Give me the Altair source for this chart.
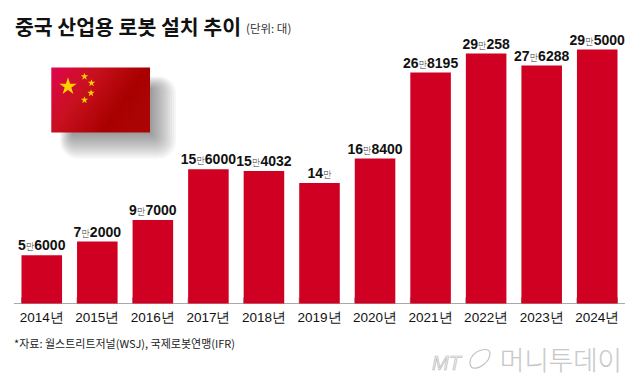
import altair as alt
import pandas as pd

years = ["2014년","2015년","2016년","2017년","2018년","2019년","2020년","2021년","2022년","2023년","2024년"]
values = [56000,72000,97000,156000,154032,140000,168400,268195,290258,276288,295000]
man_part = ["5","7","9","15","15","14","16","26","29","27","29"]
rest_part = ["6000","2000","7000","6000","4032","","8400","8195","258","6288","5000"]

RED = "#cf0022"
NUM_FONT = "Liberation Sans"
KR = "Noto Sans CJK KR"
W, H = 611, 295.5
DIGIT = 7.8
MAN = 8.5
HALF_BAR = 20.25
rows = []
for y, v, a, b in zip(years, values, man_part, rest_part):
    total = len(a)*DIGIT + MAN + len(b)*DIGIT
    start = HALF_BAR - total/2
    rows.append(dict(year=y, value=v, pre=a, post=b,
                     pre_off=start + len(a)*DIGIT,
                     man_off=start + len(a)*DIGIT + MAN/2,
                     post_off=start + len(a)*DIGIT + MAN))
df = pd.DataFrame(rows)

xscale = alt.Scale(domain=years, paddingInner=0.27, paddingOuter=0.135)
yscale = alt.Scale(domain=[0, 295000*H/254], nice=False)
X = alt.X("year:N", scale=xscale, sort=years, title=None, axis=None)
Y = alt.Y("value:Q", scale=yscale, axis=None)

base = alt.Chart(df)
bars = base.mark_bar(color=RED).encode(x=X, y=Y)
baseline = alt.Chart(pd.DataFrame({"a":[0]})).mark_rule(color="#aaaaaa", strokeWidth=1).encode(
    x=alt.value(0), x2=alt.value(W), y=alt.value(H))
tick_l = base.mark_rule(color="#999999", strokeWidth=1).encode(
    x=alt.X("year:N", scale=xscale, sort=years, bandPosition=0, title=None, axis=None), y=alt.value(H-6), y2=alt.value(H))
tick_r = alt.Chart(df[df.year=="2024년"]).mark_rule(color="#999999", strokeWidth=1).encode(
    x=alt.X("year:N", scale=xscale, sort=years, bandPosition=1, title=None, axis=None), y=alt.value(H-6), y2=alt.value(H))
year_labels = base.mark_text(align="center", baseline="alphabetic", font="Liberation Sans", fontSize=13.5, color="#111111").encode(
    x=X, y=alt.value(H+18), text="year:N")

def lab(field, off, align):
    return base.mark_text(align=align, baseline="alphabetic", dy=-5, font=NUM_FONT, fontSize=14, fontWeight="bold", color="#111111").encode(
        x=X, y=Y, xOffset=alt.XOffset(off+":Q", scale=None), text=field+":N")
l1 = lab("pre","pre_off","right")
l3 = lab("post","post_off","left")
l2 = base.mark_text(text="만", align="center", baseline="alphabetic", dy=-5, font=KR, fontSize=9, fontWeight=300, color="#333333").encode(
    x=X, y=Y, xOffset=alt.XOffset("man_off:Q", scale=None))

def note(text, x, y, font=KR, size=12, weight="normal", color="#111111", **kw):
    return alt.Chart(pd.DataFrame({"a":[0]})).mark_text(text=text, align="left", baseline="alphabetic", font=font,
        fontSize=size, fontWeight=weight, color=color, **kw).encode(x=alt.value(x), y=alt.value(y))

title = note("중국 산업용 로봇 설치 추이", 1, 27, size=20.5, weight="bold")
unit = note("(단위: 대)", 232, 25, size=11.5, color="#333333")
source = note("*자료: 월스트리트저널(WSJ), 국제로봇연맹(IFR)", 0, 340, size=11, color="#222222")
mt = note("MT", 418, 362, font="Liberation Sans", size=20, color="#f0f0f0", fontStyle="italic", stroke="#b5b5b5", strokeWidth=0.6)
brand = note("머니투데이", 486, 362, size=26.5, weight=100, color="#f4f4f4", stroke="#c0c0c0", strokeWidth=0.6)
RING = "M-1,0.35C-1,-0.35,-0.2,-0.95,0.55,-0.95C1.1,-0.95,1.1,-0.4,0.8,0.1C0.4,0.7,-0.3,1,-0.7,0.9C-1,0.8,-1,0.6,-1,0.35Z"
ring = alt.Chart(pd.DataFrame({"a":[0]})).mark_point(shape=RING, size=400, filled=False, color="#c0c0c0", strokeWidth=1.2, opacity=1).encode(
    x=alt.value(466), y=alt.value(351))

fx0, fx1, fy0, fy1 = 37.3, 136, 59.5, 124.5
shadow_layers = []
for grow in range(2, 28, 2):
    shadow_layers.append(alt.Chart(pd.DataFrame({"a":[0]})).mark_rect(color="#222222", opacity=0.04, cornerRadius=grow/1.5).encode(
        x=alt.value(fx0+22-grow/2), x2=alt.value(fx1+grow), y=alt.value(fy0+22-grow/2), y2=alt.value(fy1+grow)))
flag = alt.Chart(pd.DataFrame({"a":[0]})).mark_rect(
    color=alt.Gradient(gradient="linear", x1=0, y1=0, x2=1, y2=0.45,
        stops=[alt.GradientStop(offset=0,color="#e0064e"),alt.GradientStop(offset=0.4,color="#c8101e"),
               alt.GradientStop(offset=0.8,color="#a80000"),alt.GradientStop(offset=1,color="#ab0404")])
).encode(x=alt.value(fx0), x2=alt.value(fx1), y=alt.value(fy0), y2=alt.value(fy1))

STAR = "M0,-1L0.2245,-0.309L0.951,-0.309L0.363,0.118L0.588,0.809L0,0.382L-0.588,0.809L-0.363,0.118L-0.951,-0.309L-0.2245,-0.309Z"
star_x = [54, 70.5, 77.5, 77, 70.5]
star_y = [78.5, 68.5, 75, 85, 92]
star_r = [340, 60, 60, 60, 60]
stars = alt.Chart(pd.DataFrame({"px":star_x,"py":star_y,"s":star_r})).mark_point(
    shape=STAR, filled=True, color="#fdd000", opacity=1).encode(
    x=alt.X("px:Q", scale=None, axis=None), y=alt.Y("py:Q", scale=None, axis=None), size=alt.Size("s:Q", scale=None, legend=None))

chart = alt.layer(*shadow_layers, flag, stars, baseline, tick_l, tick_r, bars, year_labels, l1, l2, l3,
                  title, unit, source, mt, ring, brand).properties(
    width=W, height=H, padding={"left":6,"top":0,"right":7,"bottom":72},
    autosize=alt.AutoSizeParams(type="none")
).configure_view(stroke=None)

chart.save("out.html", embed_options={"renderer": "svg", "actions": False})
